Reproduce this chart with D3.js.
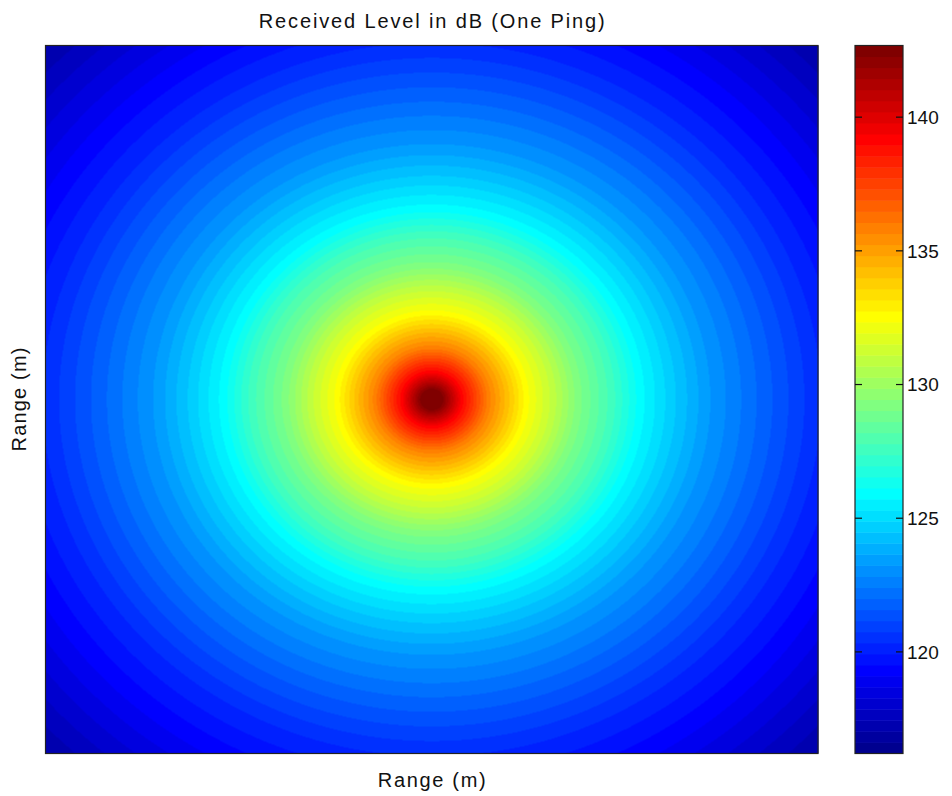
<!DOCTYPE html>
<html>
<head>
<meta charset="utf-8">
<script src="https://cdn.jsdelivr.net/npm/d3@7"></script>
<style>
  html, body { margin: 0; padding: 0; background: #fff; }
  svg text { font-family: "Liberation Sans", Arial, Helvetica, sans-serif; fill: #111; }
</style>
</head>
<body>
<svg id="chart" width="952" height="796"></svg>
<script>
// Received level (dB) along the range from the source, in metres.
const profileRangeM = [0, 30, 77, 113, 148, 245, 310, 379, 465, 539, 630, 715, 850, 1000, 1414];
const profileLevelDb = [142.68, 142.3, 139.2, 137.5, 135.8, 132.5, 131.0, 129.2, 127.6, 125.9, 124.5, 123.3, 121.9, 120.4, 117.0];

// Grid extent (metres), source at the origin.
const gridX = [-1000, 1000];
const gridY = [-1000, 1000];

// Colour limits and colour-bar ticks.
const colorLimits = [116.2, 142.68];
const colorTicks = [120, 125, 130, 135, 140];

const titleText = "Received Level in dB (One Ping)";
const xLabel = "Range (m)";
const yLabel = "Range (m)";

// MATLAB-style 64-step jet colormap.
function jet(m) {
  const n = Math.ceil(m / 4);
  const u = [];
  for (let k = 1; k <= n; k++) u.push(k / n);
  for (let k = 1; k < n; k++) u.push(1);
  for (let k = n; k >= 1; k--) u.push(k / n);
  const g0 = Math.ceil(n / 2) - (m % 4 === 1 ? 1 : 0);
  const r = new Array(m).fill(0), g = new Array(m).fill(0), b = new Array(m).fill(0);
  u.forEach((v, j) => {
    const gi = g0 + j + 1, ri = gi + n, bi = gi - n;
    if (gi >= 1 && gi <= m) g[gi - 1] = v;
    if (ri >= 1 && ri <= m) r[ri - 1] = v;
    if (bi >= 1 && bi <= m) b[bi - 1] = v;
  });
  return d3.range(m).map(i => [Math.round(r[i] * 255), Math.round(g[i] * 255), Math.round(b[i] * 255)]);
}
const cmap = jet(64);

const plot = { left: 45.5, right: 818, top: 45.5, bottom: 753.5 };
const cbar = { left: 855, right: 903 };

const svg = d3.select("#chart");

const x = d3.scaleLinear().domain(gridX).range([plot.left, plot.right]);
const y = d3.scaleLinear().domain(gridY).range([plot.bottom, plot.top]);
const levelAtRange = d3.scaleLinear().domain(profileRangeM).range(profileLevelDb).clamp(true);
const color = d3.scaleQuantize().domain(colorLimits).range(cmap);

// Heat map rendered pixel by pixel into a canvas, then placed in the SVG.
const W = Math.round(plot.right - plot.left), H = Math.round(plot.bottom - plot.top);
const canvas = document.createElement("canvas");
canvas.width = W; canvas.height = H;
const ctx = canvas.getContext("2d");
const img = ctx.createImageData(W, H);
for (let py = 0; py < H; py++) {
  const ym = y.invert(plot.top + py + 0.5);
  for (let px = 0; px < W; px++) {
    const xm = x.invert(plot.left + px + 0.5);
    const c = color(levelAtRange(Math.hypot(xm, ym)));
    const o = (py * W + px) * 4;
    img.data[o] = c[0]; img.data[o + 1] = c[1]; img.data[o + 2] = c[2]; img.data[o + 3] = 255;
  }
}
ctx.putImageData(img, 0, 0);

svg.append("image")
  .attr("x", plot.left).attr("y", plot.top)
  .attr("width", W).attr("height", H)
  .attr("preserveAspectRatio", "none")
  .attr("href", canvas.toDataURL());

svg.append("rect")
  .attr("x", plot.left).attr("y", plot.top)
  .attr("width", plot.right - plot.left).attr("height", plot.bottom - plot.top)
  .attr("fill", "none").attr("stroke", "#222").attr("stroke-width", 1.2);

// Colour bar
const cy = d3.scaleLinear().domain(colorLimits).range([plot.bottom, plot.top]);
const step = (colorLimits[1] - colorLimits[0]) / cmap.length;
svg.append("g").selectAll("rect")
  .data(cmap)
  .join("rect")
  .attr("x", cbar.left)
  .attr("width", cbar.right - cbar.left)
  .attr("y", (d, i) => cy(colorLimits[0] + (i + 1) * step))
  .attr("height", (d, i) => cy(colorLimits[0] + i * step) - cy(colorLimits[0] + (i + 1) * step) + 0.5)
  .attr("fill", d => `rgb(${d[0]},${d[1]},${d[2]})`);

svg.append("rect")
  .attr("x", cbar.left).attr("y", plot.top)
  .attr("width", cbar.right - cbar.left).attr("height", plot.bottom - plot.top)
  .attr("fill", "none").attr("stroke", "#222").attr("stroke-width", 1.2);

const tickG = svg.append("g").selectAll("g").data(colorTicks).join("g")
  .attr("transform", d => `translate(0,${cy(d)})`);
tickG.append("line").attr("x1", cbar.left).attr("x2", cbar.left + 7).attr("stroke", "#111").attr("stroke-width", 1.2);
tickG.append("line").attr("x1", cbar.right - 7).attr("x2", cbar.right).attr("stroke", "#111").attr("stroke-width", 1.2);
tickG.append("text")
  .attr("x", cbar.right + 4).attr("dy", "0.36em")
  .attr("font-size", 19)
  .text(d => d);

// Title and axis labels
svg.append("text")
  .attr("x", (plot.left + plot.right) / 2).attr("y", 27.5)
  .attr("text-anchor", "middle").attr("font-size", 20)
  .attr("textLength", 346).attr("lengthAdjust", "spacing")
  .text(titleText);

svg.append("text")
  .attr("x", (plot.left + plot.right) / 2).attr("y", 787)
  .attr("text-anchor", "middle").attr("font-size", 20)
  .attr("textLength", 108).attr("lengthAdjust", "spacing")
  .text(xLabel);

svg.append("text")
  .attr("transform", `translate(26,${(plot.top + plot.bottom) / 2}) rotate(-90)`)
  .attr("text-anchor", "middle").attr("font-size", 20)
  .attr("textLength", 104).attr("lengthAdjust", "spacing")
  .text(yLabel);
</script>
</body>
</html>
